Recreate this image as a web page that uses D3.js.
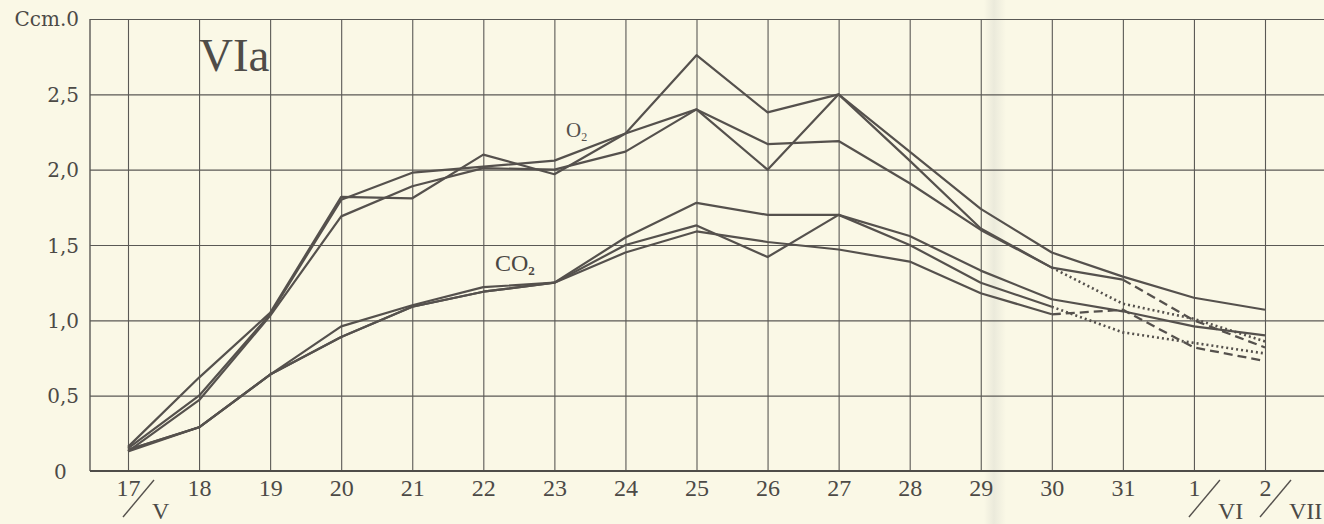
<!DOCTYPE html>
<html>
<head>
<meta charset="utf-8">
<script src="https://cdn.jsdelivr.net/npm/d3@7"></script>
<style>
  html, body { margin: 0; padding: 0; background: #faf8e6; }
  svg { display: block; }
  .grid line { stroke: #5a5955; stroke-width: 1.1; }
  .grid path { display: none; }
  .xlab { font-family: 'Liberation Serif', serif; font-size: 24px; fill: #4c4a46; }
  .ylab { font-family: 'DejaVu Serif', serif; font-size: 20px; fill: #4c4a46; }
</style>
</head>
<body>
<div class="chart"></div>
<script>
// days along the x axis, with the month written under the slash
const days = ['17', '18', '19', '20', '21', '22', '23', '24', '25', '26', '27', '28', '29', '30', '31', '1', '2'];
const months = ['V', '', '', '', '', '', '', '', '', '', '', '', '', '', '', 'VI', 'VII'];
const yTicks = [0, 0.5, 1, 1.5, 2, 2.5, 3];
const yTickLabels = ['0', '0,5', '1,0', '1,5', '2,0', '2,5', 'Ccm.0'];

// O2 curves
const o2a = [0.16, 0.62, 1.05, 1.82, 1.81, 2.10, 1.97, 2.24, 2.76, 2.38, 2.50, 2.12, 1.74, 1.45, 1.29, 1.15, 1.07];
const o2b = [0.15, 0.50, 1.04, 1.80, 1.98, 2.02, 2.06, 2.24, 2.40, 2.00, 2.50, 2.06, 1.61, 1.35, 1.27, 1.00, 0.82];
const o2c = [0.13, 0.47, 1.03, 1.69, 1.89, 2.01, 2.00, 2.12, 2.40, 2.17, 2.19, 1.91, 1.60, 1.35, 1.11, 1.01, 0.86];
// CO2 curves
const co2a = [0.14, 0.29, 0.64, 0.96, 1.10, 1.22, 1.25, 1.55, 1.78, 1.70, 1.70, 1.56, 1.33, 1.14, 1.06, 0.96, 0.90];
const co2b = [0.14, 0.29, 0.64, 0.89, 1.09, 1.19, 1.25, 1.50, 1.63, 1.42, 1.70, 1.50, 1.25, 1.09, 0.92, 0.85, 0.78];
const co2c = [0.13, 0.29, 0.64, 0.89, 1.09, 1.19, 1.25, 1.45, 1.59, 1.52, 1.47, 1.39, 1.18, 1.04, 1.07, 0.82, 0.73];

const width = 1324;
const height = 524;
const plotLeft = 90, plotRight = 1324, plotTop = 19, plotBottom = 471;
const ink = '#55514d';

const svg = d3.select('.chart')
  .append('svg')
  .attr('width', width)
  .attr('height', height);

// faint shadow of the page fold
const grad = svg.append('defs').append('linearGradient').attr('id', 'fold');
grad.append('stop').attr('offset', '0%').attr('stop-color', '#faf8e6');
grad.append('stop').attr('offset', '45%').attr('stop-color', '#ebeadb');
grad.append('stop').attr('offset', '100%').attr('stop-color', '#faf8e6');
svg.append('rect')
  .attr('x', 984).attr('y', 0).attr('width', 22).attr('height', height)
  .attr('fill', 'url(#fold)');

const x = d3.scalePoint()
  .domain(days)
  .range([128, 1265]);

const y = d3.scaleLinear()
  .domain([0, 3])
  .range([plotBottom, plotTop]);

// horizontal grid + y labels
const yAxis = svg.append('g')
  .attr('class', 'grid')
  .attr('transform', 'translate(' + plotLeft + ',0)')
  .call(d3.axisLeft(y)
    .tickValues(yTicks)
    .tickSize(-(plotRight - plotLeft))
    .tickPadding(11)
    .tickFormat((d, i) => yTickLabels[i]));

yAxis.selectAll('text')
  .attr('class', 'ylab')
  .attr('dy', '0.36em');
yAxis.selectAll('.tick')
  .filter(d => d === 0)
  .select('text')
  .attr('x', -36)
  .attr('text-anchor', 'start');
yAxis.selectAll('.tick')
  .filter(d => d === 3)
  .select('text')
  .attr('dy', '0.3em');

// vertical grid + day labels
const xAxis = svg.append('g')
  .attr('class', 'grid')
  .attr('transform', 'translate(0,' + plotBottom + ')')
  .call(d3.axisBottom(x)
    .tickSize(-(plotBottom - plotTop))
    .tickSizeOuter(0)
    .tickPadding(8));

xAxis.selectAll('text')
  .attr('class', 'xlab')
  .attr('dy', '0.7em');

// frame: left edge and heavier base line
svg.append('line')
  .attr('x1', plotLeft).attr('x2', plotLeft).attr('y1', plotTop).attr('y2', plotBottom)
  .attr('stroke', '#5a5955').attr('stroke-width', 1.4);
svg.append('line')
  .attr('x1', plotLeft).attr('x2', plotRight).attr('y1', plotBottom).attr('y2', plotBottom)
  .attr('stroke', '#4f4d49').attr('stroke-width', 2.2);

// month marks: slash and roman numeral
days.forEach((d, i) => {
  if (!months[i]) return;
  const cx = x(d);
  svg.append('line')
    .attr('x1', cx - 5).attr('y1', 517)
    .attr('x2', cx + 26).attr('y2', 480)
    .attr('stroke', ink).attr('stroke-width', 1.4);
  svg.append('text')
    .attr('class', 'xlab')
    .attr('x', cx + 24)
    .attr('y', 519)
    .text(months[i]);
});

// curves: solid part, then a dashed or dotted tail from the given day on
const series = [
  { values: o2a },
  { values: o2b, tailFrom: '31', dash: '9,5' },
  { values: o2c, tailFrom: '30', dash: '2,3' },
  { values: co2a },
  { values: co2b, tailFrom: '30', dash: '2,3' },
  { values: co2c, tailFrom: '30', dash: '9,5' }
];

const line = d3.line()
  .x(d => x(d.day))
  .y(d => y(d.v));

series.forEach(s => {
  const pts = s.values.map((v, i) => ({ day: days[i], v: v }));
  const cut = s.tailFrom ? days.indexOf(s.tailFrom) : pts.length - 1;
  svg.append('path')
    .datum(pts.slice(0, cut + 1))
    .attr('d', line)
    .attr('fill', 'none')
    .attr('stroke', ink)
    .attr('stroke-width', 2.2)
    .attr('stroke-linejoin', 'round');
  if (s.tailFrom) {
    svg.append('path')
      .datum(pts.slice(cut))
      .attr('d', line)
      .attr('fill', 'none')
      .attr('stroke', ink)
      .attr('stroke-width', s.dash === '2,3' ? 2.6 : 2.3)
      .attr('stroke-dasharray', s.dash);
  }
});

// titles
svg.append('text')
  .attr('x', 199).attr('y', 71)
  .attr('font-family', 'Liberation Serif, serif')
  .attr('font-size', 47)
  .attr('fill', '#4f4c48')
  .text('VIa');

const o2Label = svg.append('text')
  .attr('x', 566).attr('y', 137)
  .attr('font-family', 'Liberation Serif, serif')
  .attr('font-size', 21)
  .attr('fill', ink);
o2Label.append('tspan').text('O');
o2Label.append('tspan').attr('font-size', 12).attr('dy', 4).text('2');

const co2Label = svg.append('text')
  .attr('x', 495).attr('y', 271)
  .attr('font-family', 'Liberation Serif, serif')
  .attr('font-size', 24)
  .attr('fill', '#4a4743');
co2Label.append('tspan').text('CO');
co2Label.append('tspan').attr('font-size', 13).attr('font-weight', 'bold').attr('dy', 4).text('2');
</script>
</body>
</html>
